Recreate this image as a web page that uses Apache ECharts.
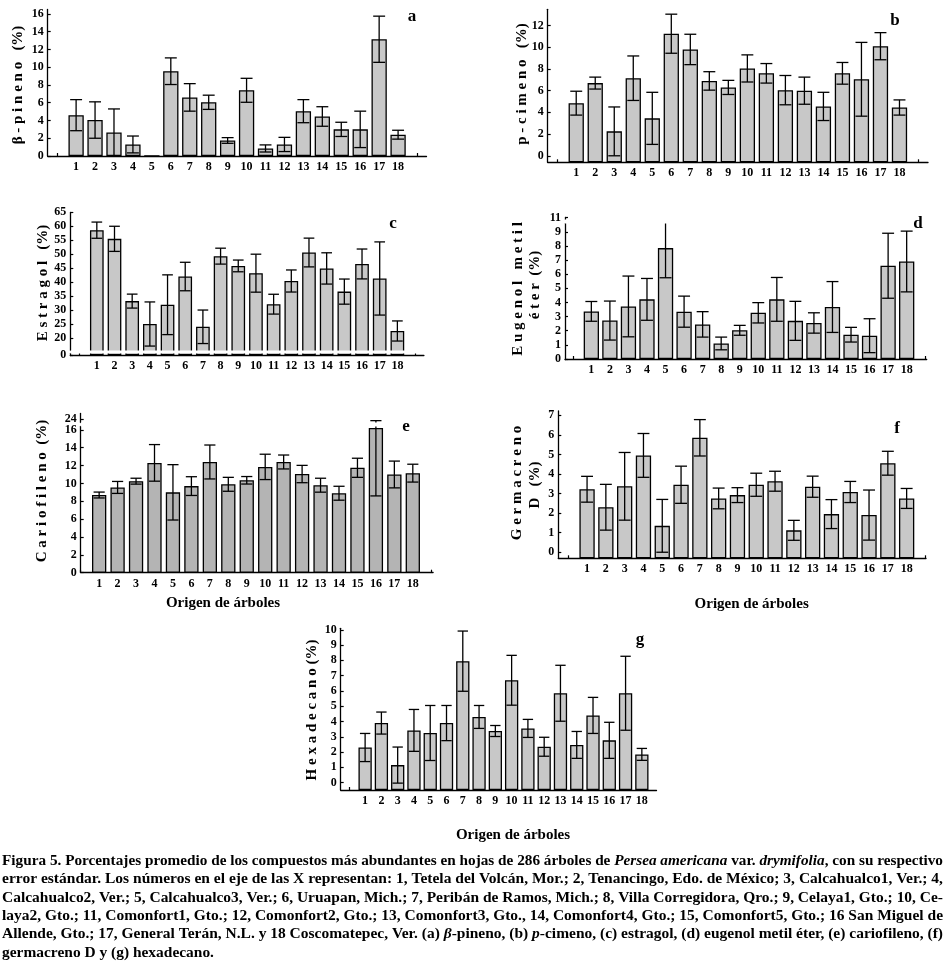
<!DOCTYPE html>
<html><head><meta charset="utf-8">
<script src="https://cdn.jsdelivr.net/npm/echarts@6/dist/echarts.min.js"></script>
<style>html,body{margin:0;padding:0;background:#fff}#c{width:945px;height:962px}</style>
</head><body><div id="c"></div>
<script>
// ---------- data ----------
const categories = ['1','2','3','4','5','6','7','8','9','10','11','12','13','14','15','16','17','18'];

const betaPineno   = [4.6,4.05,2.65,1.3,0,9.55,6.6,6.05,1.75,7.4,0.85,1.3,5.05,4.45,3.0,3.0,13.15,2.4];
const betaPinenoSE = [1.75,2.05,2.65,0.95,0,1.5,1.55,0.8,0.32,1.35,0.4,0.8,1.3,1.1,0.8,2.05,2.6,0.5];

const pCimeno   = [4.85,6.7,2.25,7.15,3.45,11.25,9.8,6.9,6.3,8.05,7.6,6.05,6.0,4.55,7.6,7.05,10.1,4.45];
const pCimenoSE = [1.1,0.55,2.25,2.05,2.4,1.8,1.4,0.85,0.65,1.25,0.9,1.35,1.25,1.3,1.0,3.4,1.25,0.7];

const estragol   = [58.6,55.5,33.2,25.0,31.9,42.0,24.0,49.3,45.8,43.2,32.1,40.4,50.6,44.9,36.6,46.5,41.3,22.5];
const estragolSE = [2.9,4.5,2.5,7.9,10.7,5.1,6.0,2.85,2.1,6.8,3.55,3.95,5.15,5.6,4.5,5.35,13.1,3.6];

const eugenol   = [3.37,2.72,3.72,4.22,7.85,3.35,2.45,1.1,2.03,3.27,4.22,2.7,2.55,3.68,1.72,1.65,6.6,6.9];
const eugenolSE = [0.7,1.38,2.15,1.48,2.1,1.1,0.9,0.45,0.35,0.72,1.55,1.38,0.72,1.8,0.52,1.2,2.3,2.15];

const cariofileno   = [8.7,9.55,10.25,12.3,9.0,9.7,12.4,9.9,10.35,11.85,12.4,11.05,9.8,8.9,11.75,16.2,11.0,11.15];
const cariofilenoSE = [0.33,0.67,0.33,2.05,3.1,1.05,1.9,0.78,0.42,1.42,0.78,0.97,0.78,0.78,1.07,7.6,1.5,1.0];

const germacreno   = [3.22,2.3,3.37,4.95,1.35,3.45,5.85,2.75,2.92,3.45,3.63,1.12,3.35,1.95,3.08,1.9,4.55,2.75];
const germacrenoSE = [0.66,1.17,1.73,1.12,1.35,0.95,0.93,0.53,0.38,0.59,0.51,0.51,0.54,0.74,0.54,1.28,0.61,0.51];

const hexadecano   = [2.3,3.9,1.15,3.42,3.25,3.9,7.95,4.3,3.38,6.7,3.55,2.35,5.85,2.47,4.4,2.77,5.85,1.85];
const hexadecanoSE = [0.92,0.72,1.18,1.37,1.8,1.15,1.97,0.75,0.36,1.63,0.59,0.62,1.83,0.88,1.18,1.18,2.42,0.39];

const ticksA = [0,2,4,6,8,10,12,14,16];
const ticksB = [0,2,4,6,8,10,12];
const ticksC = [0,20,25,30,35,40,45,50,55,60,65];
const ticksD = [0,1,2,3,4,5,6,7,8,9,11];
const ticksE = [0,2,4,6,8,10,12,14,16];
const ticksEUpper = [24];
const ticksF = [0,1,2,3,4,5,6,7];
const ticksG = [0,1,2,3,4,5,6,7,8,9,10];

const yNames = {
  a: ['β - p i n e n o   (%)'],
  b: ['p - c i m e n o   (%)'],
  c: ['E s t r a g o l   (%)'],
  d: ['E u g e n o l   m e t i l', 'é t e r  (%)'],
  e: ['C a r i o f i l e n o  (%)'],
  f: ['G e r m a c r e n o', 'D   (%)'],
  g: ['H e x a d e c a n o (%)']
};
const xTitle = 'Origen de árboles';

const captionLines = [
  'Figura 5. Porcentajes promedio de los compuestos más abundantes en hojas de 286 árboles de {i|Persea americana} var. {i|drymifolia}, con su respectivo',
  'error estándar. Los números en el eje de las X representan: 1, Tetela del Volcán, Mor.; 2, Tenancingo, Edo. de México; 3, Calcahualco1, Ver.; 4,',
  'Calcahualco2, Ver.; 5, Calcahualco3, Ver.; 6, Uruapan, Mich.; 7, Peribán de Ramos, Mich.; 8, Villa Corregidora, Qro.; 9, Celaya1, Gto.; 10, Ce-',
  'laya2, Gto.; 11, Comonfort1, Gto.; 12, Comonfort2, Gto.; 13, Comonfort3, Gto., 14, Comonfort4, Gto.; 15, Comonfort5, Gto.; 16 San Miguel de',
  'Allende, Gto.; 17, General Terán, N.L. y 18 Coscomatepec, Ver. (a) {i|β}-pineno, (b) {i|p}-cimeno, (c) estragol, (d) eugenol metil éter, (e) cariofileno, (f)',
  'germacreno D y (g) hexadecano.'
];

// ---------- layout / style ----------
const FONT = 'Liberation Serif';
const panels = [
  {key:'a', means:betaPineno, se:betaPinenoSE, ticks:ticksA,
   grid:{left:47.7, top:9.5, width:378.8, height:146.5}, x:[-0.5,19.5], y:[0,16.5], bw:15.3, color:'#c8c8c8',
   letter:[412,17], name:[[18,85]]},
  {key:'b', means:pCimeno, se:pCimenoSE, ticks:ticksB,
   grid:{left:547.7, top:9.3, width:380.3, height:153}, x:[-0.5,19.5], y:[-0.6,13.5], bw:15.3, color:'#c8c8c8',
   letter:[895,21], name:[[521.7,84]]},
  {key:'c', means:estragol, se:estragolSE, ticks:ticksC,
   grid:{left:70.3, top:212.3, width:353.6, height:142.7}, x:[-0.5,19.5], y:[0,65], bw:13.7, color:'#c8c8c8',
   breaks:[{start:0.8, end:15.5, gap:0.8}], letter:[393,224], name:[[43,283]]},
  {key:'d', means:eugenol, se:eugenolSE, ticks:ticksD,
   grid:{left:565, top:217.7, width:361.7, height:141.3}, x:[-0.42,19.08], y:[0,11], bw:15.3, color:'#c8c8c8',
   breaks:[{start:9.6, end:10.9, gap:0.3}], letter:[918,224], name:[[518,289],[535,285]]},
  {key:'e', means:cariofileno, se:cariofilenoSE, ticks:ticksE, upperTicks:ticksEUpper,
   grid:{left:80.7, top:413.5, width:352.4, height:159.2}, x:[0,19.1], y:[0,24.6], bw:14.3, color:'#b4b4b4',
   breaks:[{start:16.45, end:23.6, gap:0.38}], letter:[406,427], name:[[42,491]], xt:[223,603]},
  {key:'f', means:germacreno, se:germacrenoSE, ticks:ticksF,
   grid:{left:558.3, top:411, width:367.7, height:147.3}, x:[-0.53,19.03], y:[-0.31,7.22], bw:15.3, color:'#c8c8c8',
   letter:[897,429], name:[[516.7,483],[535,485]], xt:[751.7,604]},
  {key:'g', means:hexadecano, se:hexadecanoSE, ticks:ticksG,
   grid:{left:340.7, top:628.3, width:315.8, height:161.7}, x:[-0.5,18.9], y:[-0.48,10.1], bw:13.3, color:'#c8c8c8',
   letter:[640,640], name:[[311.7,710]], xt:[513,835]}
];

const labelStyle = {fontFamily:FONT, fontWeight:'bold', fontSize:12, color:'#000'};
const axisLine = {show:true, onZero:false, lineStyle:{color:'#000', width:1.3}};

const grids = [], xAxes = [], yAxes = [], series = [], graphics = [];
const catValues = categories.map(Number);

function makeY(p, i, ticks, showLine) {
  const y = {
    type:'value', gridIndex:i, min:p.y[0], max:p.y[1], position:'left',
    axisLine:showLine ? axisLine : {show:false, onZero:false}, splitLine:{show:false},
    axisTick:{show:true, inside:true, length:3, customValues:ticks, lineStyle:{color:'#000', width:1.2}},
    axisLabel:Object.assign({margin:4, customValues:ticks, hideOverlap:false,
      formatter:v => (ticks.indexOf(v) >= 0 ? String(v) : '')}, labelStyle)
  };
  if (p.y[0] < 0) y.startValue = p.y[0];
  if (p.breaks) {
    y.breaks = p.breaks;
    y.breakArea = showLine ? {show:true, expandOnClick:false, zigzagAmplitude:0, zigzagZ:10,
      itemStyle:{color:'#fff', borderWidth:0, opacity:1}} : {show:false};
    y.breakLabelLayout = {moveOverlap:false};
  }
  return y;
}

panels.forEach((p, i) => {
  grids.push(Object.assign({outerBoundsMode:'none', containLabel:false}, p.grid));
  const edgeTicks = [0, 19].filter(v => v >= p.x[0] && v <= p.x[1]);
  xAxes.push({
    type:'value', gridIndex:i, min:p.x[0], max:p.x[1], position:'bottom',
    axisLine, splitLine:{show:false},
    axisTick:{show:true, inside:true, length:3, customValues:edgeTicks, lineStyle:{color:'#000', width:1.2}},
    axisLabel:Object.assign({margin:5, customValues:catValues, formatter:v => String(v)}, labelStyle)
  });
  yAxes.push(makeY(p, i, p.ticks, true));
  const yIdx = yAxes.length - 1;
  if (p.upperTicks) yAxes.push(makeY(p, i, p.upperTicks, false));

  series.push({
    type:'bar', xAxisIndex:i, yAxisIndex:yIdx, barWidth:p.bw, z:2,
    itemStyle:{color:p.color, borderColor:'#000', borderWidth:1.3},
    data:p.means.map((m, k) => [catValues[k], m]),
    silent:true, animation:false
  });
  const cap = p.bw * 0.39;
  series.push({
    type:'custom', xAxisIndex:i, yAxisIndex:yIdx, z:5, silent:true, animation:false,
    data:p.means.map((m, k) => [catValues[k], m, p.se[k]]),
    renderItem:(params, api) => {
      const xv = api.value(0), m = api.value(1), s = api.value(2);
      if (!s) return null;
      const t = api.coord([xv, m + s]), b = api.coord([xv, m - s]);
      const st = {stroke:'#000', lineWidth:1.3};
      return {type:'group', children:[
        {type:'line', shape:{x1:t[0], y1:t[1], x2:b[0], y2:b[1]}, style:st},
        {type:'line', shape:{x1:t[0]-cap, y1:t[1], x2:t[0]+cap, y2:t[1]}, style:st},
        {type:'line', shape:{x1:b[0]-cap, y1:b[1], x2:b[0]+cap, y2:b[1]}, style:st}
      ]};
    }
  });

  graphics.push({type:'text', x:p.letter[0], y:p.letter[1], silent:true, z:300,
    style:{text:p.key, fontFamily:FONT, fontWeight:'bold', fontSize:17, fill:'#000', align:'center', verticalAlign:'middle'}});
  yNames[p.key].forEach((txt, j) => {
    graphics.push({type:'text', x:p.name[j][0], y:p.name[j][1], rotation:Math.PI/2, silent:true, z:300,
      style:{text:txt, fontFamily:FONT, fontWeight:'bold', fontSize:15, fill:'#000', align:'center', verticalAlign:'middle'}});
  });
  if (p.xt) {
    graphics.push({type:'text', x:p.xt[0], y:p.xt[1], silent:true, z:300,
      style:{text:xTitle, fontFamily:FONT, fontWeight:'bold', fontSize:15, fill:'#000', align:'center', verticalAlign:'middle'}});
  }
});

// caption, justified by measuring each line
const CAP_SIZE = 15;
const mctx = document.createElement('canvas').getContext('2d');
function lineWidth(s) {
  let w = 0;
  const re = /\{i\|([^}]*)\}|([^{]+)/g; let mt;
  while ((mt = re.exec(s))) {
    if (mt[1] !== undefined) { mctx.font = 'italic bold ' + CAP_SIZE + 'px "' + FONT + '"'; w += mctx.measureText(mt[1]).width; }
    else { mctx.font = 'bold ' + CAP_SIZE + 'px "' + FONT + '"'; w += mctx.measureText(mt[2]).width; }
  }
  return w;
}
const capLeft = 2, capRight = 943, capY0 = 861, capDy = 18.4;
const scales = captionLines.map(l => (capRight - capLeft) / lineWidth(l));
const avgScale = scales.slice(0, -1).reduce((a, b) => a + b, 0) / (scales.length - 1);
captionLines.forEach((l, k) => {
  const sc = k === captionLines.length - 1 ? avgScale : scales[k];
  graphics.push({type:'text', x:capLeft, y:capY0 + k * capDy, scaleX:sc, silent:true, z:300,
    style:{text:l, fontFamily:FONT, fontWeight:'bold', fontSize:CAP_SIZE, fill:'#000', align:'left', verticalAlign:'middle',
      rich:{i:{fontFamily:FONT, fontWeight:'bold', fontStyle:'italic', fontSize:CAP_SIZE, fill:'#000'}}}});
});

const chart = echarts.init(document.getElementById('c'), null, {renderer:'canvas'});
chart.setOption({
  animation:false, backgroundColor:'#fff',
  grid:grids, xAxis:xAxes, yAxis:yAxes, series, graphic:{z:300, elements:graphics}
});
</script></body></html>
